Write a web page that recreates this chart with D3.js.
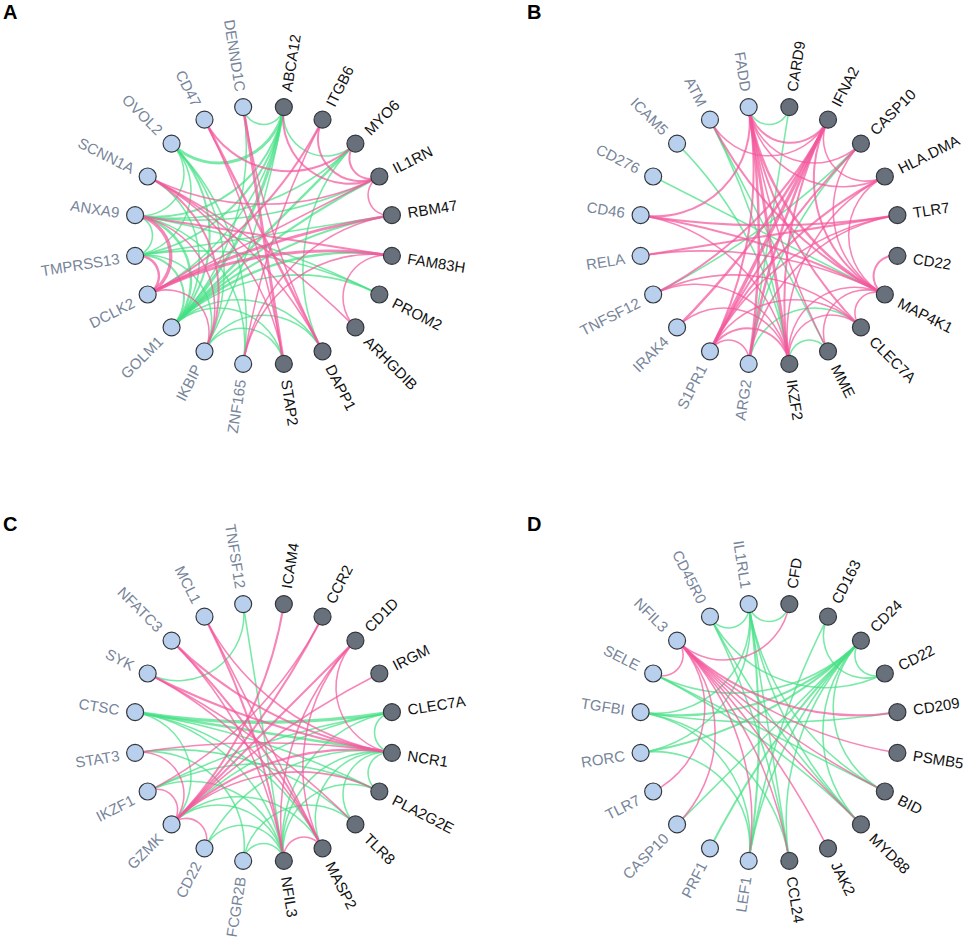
<!DOCTYPE html>
<html><head><meta charset="utf-8">
<script src="https://cdn.jsdelivr.net/npm/d3@7/dist/d3.min.js"></script>
<style>body{margin:0;background:#fff}svg{display:block}text{font-family:"Liberation Sans",Arial,sans-serif}</style>
</head><body>
<svg id="chart" width="969" height="943"></svg>
<script>
// ---------- DATA ----------
// nodes listed clockwise starting just right of the top; first 10 = dark group, last 10 = light group
const nodesA = ["ABCA12","ITGB6","MYO6","IL1RN","RBM47","FAM83H","PROM2","ARHGDIB","DAPP1","STAP2",
                "ZNF165","IKBIP","GOLM1","DCLK2","TMPRSS13","ANXA9","SCNN1A","OVOL2","CD47","DENND1C"];
const nodesB = ["CARD9","IFNA2","CASP10","HLA.DMA","TLR7","CD22","MAP4K1","CLEC7A","MME","IKZF2",
                "ARG2","S1PR1","IRAK4","TNFSF12","RELA","CD46","CD276","ICAM5","ATM","FADD"];
const nodesC = ["ICAM4","CCR2","CD1D","IRGM","CLEC7A","NCR1","PLA2G2E","TLR8","MASP2","NFIL3",
                "FCGR2B","CD22","GZMK","IKZF1","STAT3","CTSC","SYK","NFATC3","MCL1","TNFSF12"];
const nodesD = ["CFD","CD163","CD24","CD22","CD209","PSMB5","BID","MYD88","JAK2","CCL24",
                "LEF1","PRF1","CASP10","TLR7","RORC","TGFBI","SELE","NFIL3","CD45R0","IL1RL1"];

// edges: [source, target, correlation]  (positive = pink, negative = green)
const edgesA = [
 ["DENND1C","ABCA12",-0.5],["ABCA12","MYO6",-0.5],["ABCA12","OVOL2",-0.8],["ABCA12","ANXA9",-0.6],
 ["ABCA12","TMPRSS13",-0.6],["ABCA12","GOLM1",-0.8],["ABCA12","DCLK2",-0.5],["ABCA12","IKBIP",-0.5],
 ["GOLM1","OVOL2",-0.6],["GOLM1","MYO6",-0.7],["GOLM1","IL1RN",-0.6],["GOLM1","RBM47",-0.6],
 ["GOLM1","FAM83H",-0.7],["GOLM1","ANXA9",-0.7],["GOLM1","TMPRSS13",-0.6],["GOLM1","DENND1C",-0.5],
 ["GOLM1","STAP2",-0.5],["GOLM1","DAPP1",-0.5],["GOLM1","PROM2",-0.5],["OVOL2","ANXA9",-0.5],
 ["OVOL2","TMPRSS13",-0.5],["OVOL2","IKBIP",-0.5],["OVOL2","ZNF165",-0.5],["ANXA9","TMPRSS13",-0.5],
 ["ANXA9","PROM2",-0.5],["ANXA9","IL1RN",-0.5],["ANXA9","MYO6",-0.5],["TMPRSS13","PROM2",-0.5],
 ["TMPRSS13","RBM47",-0.5],["IKBIP","STAP2",-0.5],["IKBIP","DAPP1",-0.5],["IKBIP","TMPRSS13",-0.5],
 ["MYO6","DAPP1",-0.5],["SCNN1A","GOLM1",-0.5],["ZNF165","ANXA9",-0.5],
 ["CD47","MYO6",0.6],["CD47","DAPP1",0.7],["DENND1C","STAP2",0.8],["DENND1C","DAPP1",0.5],
 ["ABCA12","IL1RN",0.6],["ITGB6","IL1RN",0.6],["ITGB6","DCLK2",0.6],["ITGB6","ZNF165",0.5],
 ["MYO6","IL1RN",0.6],["IL1RN","RBM47",0.5],["IL1RN","SCNN1A",0.5],["IL1RN","DCLK2",0.5],
 ["RBM47","DCLK2",0.8],["RBM47","ZNF165",0.5],["FAM83H","DCLK2",0.8],["FAM83H","ANXA9",0.6],
 ["FAM83H","ARHGDIB",0.5],["FAM83H","ZNF165",0.5],["ARHGDIB","SCNN1A",0.5],["SCNN1A","DAPP1",0.5],
 ["SCNN1A","IKBIP",0.6],["SCNN1A","STAP2",0.5],["ANXA9","DCLK2",0.9],["ANXA9","IKBIP",0.5],
 ["TMPRSS13","DCLK2",0.7],["DCLK2","IKBIP",0.5],["STAP2","CD47",0.5]
];
const edgesB = [
 ["FADD","CARD9",-0.5],["CARD9","ARG2",-0.5],["ICAM5","IKZF2",-0.5],["CD276","MAP4K1",-0.5],
 ["ATM","MME",-0.5],["ATM","IKZF2",-0.5],["IKZF2","MME",-0.5],["ARG2","CLEC7A",-0.5],
 ["CASP10","ARG2",-0.5],["TNFSF12","CASP10",-0.5],
 ["FADD","IFNA2",0.6],["FADD","CASP10",0.5],["FADD","HLA.DMA",0.5],["FADD","MAP4K1",0.7],
 ["FADD","CLEC7A",0.6],["FADD","IKZF2",0.8],["FADD","ARG2",0.7],["FADD","S1PR1",0.6],
 ["FADD","CD46",0.6],["FADD","MME",0.5],["IFNA2","HLA.DMA",0.5],["IFNA2","MAP4K1",0.6],
 ["IFNA2","S1PR1",0.9],["IFNA2","IRAK4",0.7],["IFNA2","TNFSF12",0.6],["IFNA2","ARG2",0.7],
 ["IFNA2","IKZF2",0.6],["IFNA2","ATM",0.5],["CASP10","S1PR1",0.6],["CASP10","MAP4K1",0.5],
 ["HLA.DMA","MAP4K1",0.5],["HLA.DMA","S1PR1",0.6],["HLA.DMA","IKZF2",0.5],["TLR7","CD46",0.6],
 ["TLR7","RELA",0.6],["TLR7","S1PR1",0.5],["TLR7","ARG2",0.5],["CD22","MAP4K1",0.6],
 ["MAP4K1","CD46",0.6],["MAP4K1","ATM",0.6],["MAP4K1","RELA",0.5],["MAP4K1","CLEC7A",0.5],
 ["MAP4K1","IKZF2",0.5],["MAP4K1","MME",0.5],["CLEC7A","IKZF2",0.5],["CLEC7A","S1PR1",0.5],
 ["CLEC7A","TNFSF12",0.5],["IKZF2","S1PR1",0.6],["IKZF2","TNFSF12",0.5],["IKZF2","IRAK4",0.5],
 ["IKZF2","CD46",0.5],["S1PR1","ARG2",0.5]
];
const edgesC = [
 ["TNFSF12","SYK",-0.5],["TNFSF12","NFIL3",-0.5],["CLEC7A","CTSC",-0.9],["CLEC7A","NCR1",-0.5],
 ["CLEC7A","NFIL3",-0.5],["CLEC7A","IKZF1",-0.5],["CLEC7A","GZMK",-0.5],["NCR1","CTSC",-0.7],
 ["NCR1","PLA2G2E",-0.5],["NCR1","TLR8",-0.5],["NCR1","MASP2",-0.5],["NCR1","NFIL3",-0.5],
 ["NCR1","CD22",-0.5],["PLA2G2E","CTSC",-0.5],["PLA2G2E","IKZF1",-0.5],["PLA2G2E","NFIL3",-0.5],
 ["TLR8","FCGR2B",-0.5],["TLR8","STAT3",-0.5],["MASP2","GZMK",-0.5],["MASP2","CTSC",-0.5],
 ["NFIL3","FCGR2B",-0.5],["NFIL3","CD22",-0.5],["NFIL3","GZMK",-0.5],["NFIL3","CTSC",-0.5],
 ["NFIL3","IKZF1",-0.5],["GZMK","CTSC",-0.5],["FCGR2B","STAT3",-0.5],
 ["ICAM4","GZMK",0.6],["CCR2","GZMK",0.6],["CCR2","IKZF1",0.5],["CD1D","GZMK",0.6],
 ["CD1D","NCR1",0.5],["CD1D","MASP2",0.5],["IRGM","GZMK",0.5],["CD1D","NFIL3",0.5],
 ["NCR1","SYK",0.6],["NCR1","NFATC3",0.6],["NCR1","STAT3",0.5],["NCR1","GZMK",0.6],
 ["NCR1","MCL1",0.5],["MASP2","NFIL3",0.5],["MASP2","NFATC3",0.6],["MASP2","MCL1",0.5],
 ["MASP2","SYK",0.5],["NFIL3","MCL1",0.6],["NFIL3","NFATC3",0.5],["GZMK","IKZF1",0.5],
 ["GZMK","CD22",0.5],["STAT3","GZMK",0.5],["TLR8","SYK",0.5],["PLA2G2E","GZMK",0.5]
];
const edgesD = [
 ["CD45R0","IL1RL1",-0.5],["IL1RL1","CFD",-0.5],["CD45R0","CD22",-0.5],["CD45R0","MYD88",-0.5],
 ["CD45R0","CCL24",-0.5],["IL1RL1","TGFBI",-0.5],["IL1RL1","RORC",-0.5],["IL1RL1","LEF1",-0.6],
 ["IL1RL1","CCL24",-0.5],["IL1RL1","MYD88",-0.5],["IL1RL1","BID",-0.5],["CD163","LEF1",-0.5],
 ["CD163","CD22",-0.5],["CD24","CD22",-0.5],["CD24","TGFBI",-0.6],["CD24","RORC",-0.6],
 ["CD24","PRF1",-0.6],["CD24","LEF1",-0.5],["CD24","CASP10",-0.5],["CD24","BID",-0.5],
 ["CD24","MYD88",-0.5],["CD24","CCL24",-0.5],["CD24","SELE",-0.5],["SELE","BID",-0.5],
 ["SELE","MYD88",-0.5],["TGFBI","LEF1",-0.5],["TGFBI","CD209",-0.5],["TGFBI","CCL24",-0.5],
 ["RORC","LEF1",-0.5],
 ["CFD","NFIL3",0.5],["NFIL3","SELE",0.5],["NFIL3","CD209",0.6],["NFIL3","PSMB5",0.5],
 ["NFIL3","BID",0.5],["NFIL3","MYD88",0.5],["NFIL3","JAK2",0.5],["NFIL3","CCL24",0.5],
 ["NFIL3","LEF1",0.5],["NFIL3","TLR7",0.5],["NFIL3","CASP10",0.5]
];

const panels = [
  {letter:"A", nodes:nodesA, edges:edgesA, lx:3,   ly:19,  cx:263.5, cy:235.5},
  {letter:"B", nodes:nodesB, edges:edgesB, lx:527, ly:19,  cx:769,   cy:235.5},
  {letter:"C", nodes:nodesC, edges:edgesC, lx:3,   ly:531, cx:263.5, cy:732.5},
  {letter:"D", nodes:nodesD, edges:edgesD, lx:527, ly:531, cx:769,   cy:732.5}
];

// ---------- DRAW ----------
const svg = d3.select("#chart");
const R = 130, nodeR = 8.5, labelGap = 16;
const PINK = "#f4589d", GREEN = "#45e185";
const angle = d3.scaleLinear().domain([0, 20]).range([-81 * Math.PI / 180, (360 - 81) * Math.PI / 180]);
const width = d3.scaleLinear().domain([0.4, 0.9]).range([1.1, 3.4]).clamp(true);

panels.forEach(p => {
  const g = svg.append("g").attr("transform", `translate(${p.cx},${p.cy})`);
  const idx = new Map(p.nodes.map((n, i) => [n, i]));
  const pos = i => { const a = angle(i); return [R * Math.cos(a), R * Math.sin(a)]; };

  function arcPath(i, j) {
    const a1 = angle(i), a2 = angle(j);
    let d = a2 - a1;
    while (d > Math.PI) d -= 2 * Math.PI;
    while (d <= -Math.PI) d += 2 * Math.PI;
    const [x1, y1] = pos(i), [x2, y2] = pos(j);
    const th = Math.abs(d);
    if (th > Math.PI - 0.02) return `M${x1},${y1}L${x2},${y2}`;
    const r = R * Math.tan(th / 2);
    const sweep = d > 0 ? 0 : 1;
    return `M${x1},${y1}A${r},${r} 0 0 ${sweep} ${x2},${y2}`;
  }

  g.append("g").selectAll("path").data(p.edges).join("path")
    .attr("d", e => arcPath(idx.get(e[0]), idx.get(e[1])))
    .attr("fill", "none")
    .attr("stroke", e => e[2] > 0 ? PINK : GREEN)
    .attr("stroke-opacity", 0.72)
    .attr("stroke-width", e => width(Math.abs(e[2])));

  g.append("g").selectAll("circle").data(p.nodes).join("circle")
    .attr("cx", (d, i) => pos(i)[0]).attr("cy", (d, i) => pos(i)[1])
    .attr("r", nodeR)
    .attr("fill", (d, i) => i < 10 ? "#68707b" : "#b8d0ed")
    .attr("stroke", "#33373d").attr("stroke-width", 1.2);

  g.append("g").selectAll("text").data(p.nodes).join("text")
    .attr("transform", (d, i) => {
      const deg = angle(i) * 180 / Math.PI;
      const right = Math.cos(angle(i)) > 0;
      return right ? `rotate(${deg}) translate(${R + labelGap},0)`
                   : `rotate(${deg}) translate(${R + labelGap},0) rotate(180)`;
    })
    .attr("text-anchor", (d, i) => Math.cos(angle(i)) > 0 ? "start" : "end")
    .attr("dominant-baseline", "central")
    .attr("font-size", "15px")
    .attr("fill", (d, i) => i < 10 ? "#111" : "#77859a")
    .text(d => d);

  svg.append("text").attr("x", p.lx).attr("y", p.ly)
    .attr("font-size", "20px").attr("font-weight", "bold").attr("fill", "#000")
    .text(p.letter);
});
</script>
</body></html>
